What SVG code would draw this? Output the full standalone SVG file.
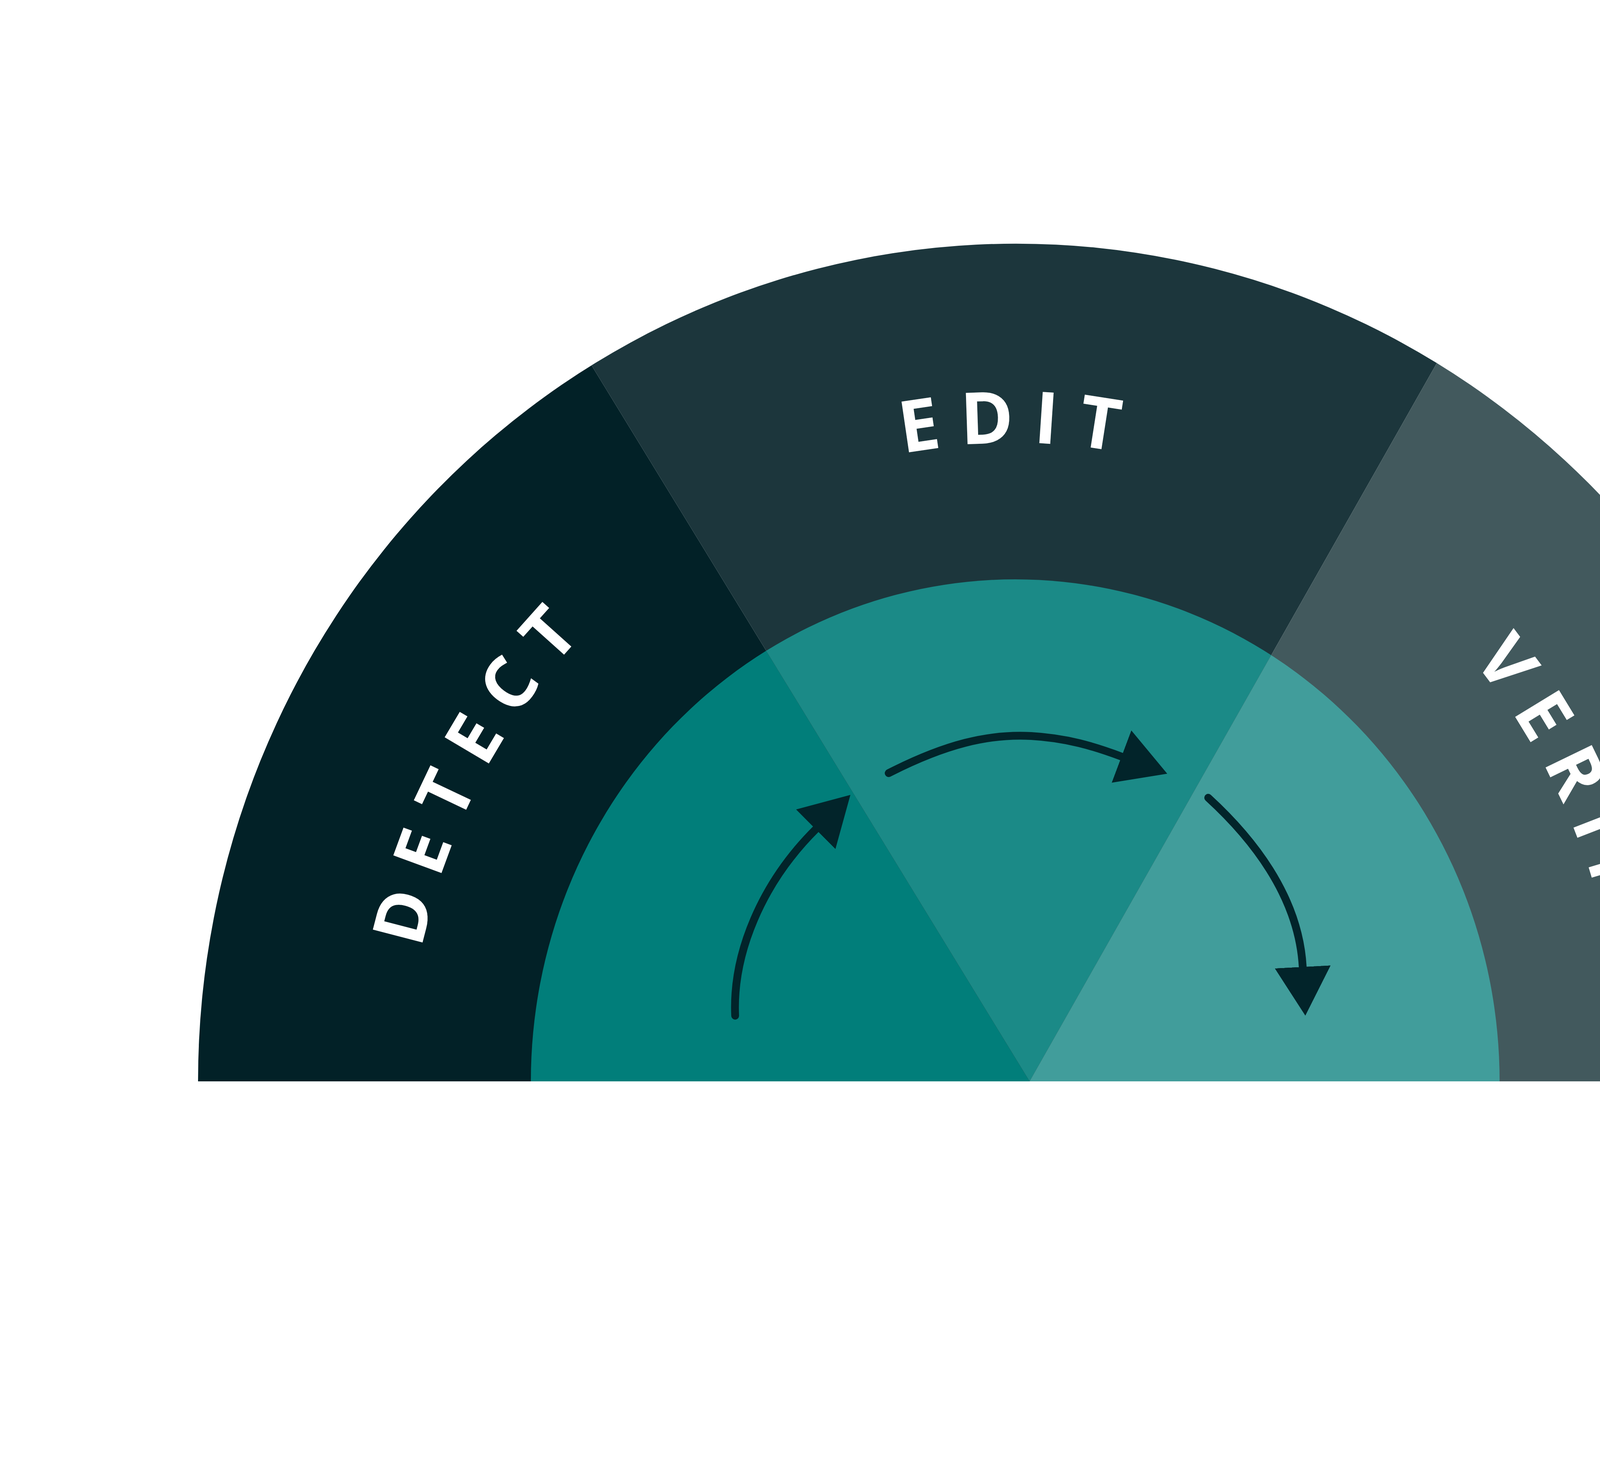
<svg xmlns="http://www.w3.org/2000/svg" xmlns:xlink="http://www.w3.org/1999/xlink" width="5236" height="3791" viewBox="0 0 5236 3791">
  <style>
    .lbl { font-family: "Open Sans", "Liberation Sans", sans-serif; font-weight: 700; font-size: 184px; letter-spacing: 48px; fill: #ffffff; }
    .arrow { fill: none; stroke: #02242a; stroke-width: 20; stroke-linecap: round; }
  </style>
  <defs>
    <path id="outerShape" d="M507,2768 A2094,2145 0 0 1 4695,2768 Z"/>
    <path id="innerShape" d="M1359,2768 A1240,1285 0 0 1 3839,2768 Z"/>
    <path id="labelArc" d="M1046,2768 A1555,1635 0 0 1 4156,2768"/>
    <clipPath id="clipLeft"><polygon points="0,0 942,0 2636,2768 0,2768"/></clipPath>
    <clipPath id="clipMid"><polygon points="942,0 4205,0 2636,2768"/></clipPath>
    <clipPath id="clipRight"><polygon points="4205,0 5236,0 5236,2768 2636,2768"/></clipPath>
    <marker id="head" markerUnits="userSpaceOnUse" markerWidth="125" markerHeight="143" viewBox="0 0 125 143" refX="1" refY="71.5" orient="auto">
      <path d="M0,0 L125,71.5 L0,143 Z" fill="#02242a"/>
    </marker>
  </defs>
  <rect x="0" y="0" width="5236" height="3791" fill="#ffffff"/>

  <g id="detect">
    <use href="#outerShape" fill="#022127" clip-path="url(#clipLeft)"/>
    <use href="#innerShape" fill="#017e7a" clip-path="url(#clipLeft)"/>
    <text class="lbl"><textPath href="#labelArc" startOffset="16.4%" text-anchor="middle">DETECT</textPath></text>
  </g>

  <g id="edit">
    <use href="#outerShape" fill="#1c363c" clip-path="url(#clipMid)"/>
    <use href="#innerShape" fill="#1b8a87" clip-path="url(#clipMid)"/>
    <text class="lbl"><textPath href="#labelArc" startOffset="50.15%" text-anchor="middle">EDIT</textPath></text>
  </g>

  <g id="verify">
    <use href="#outerShape" fill="#42595d" clip-path="url(#clipRight)"/>
    <use href="#innerShape" fill="#419d9b" clip-path="url(#clipRight)"/>
    <text class="lbl"><textPath href="#labelArc" startOffset="85.7%" text-anchor="middle">VERIFY</textPath></text>
  </g>

  <g id="connectors">
    <path class="arrow" d="M1882,2600 C1875,2440 1950,2260 2089,2122" marker-end="url(#head)"/>
    <path class="arrow" d="M2275,1979 C2420,1905 2530,1878 2640,1884 C2730,1889 2800,1910 2872,1937" marker-end="url(#head)"/>
    <path class="arrow" d="M3093,2042 C3200,2140 3325,2290 3335,2476" marker-end="url(#head)"/>
  </g>
</svg>
